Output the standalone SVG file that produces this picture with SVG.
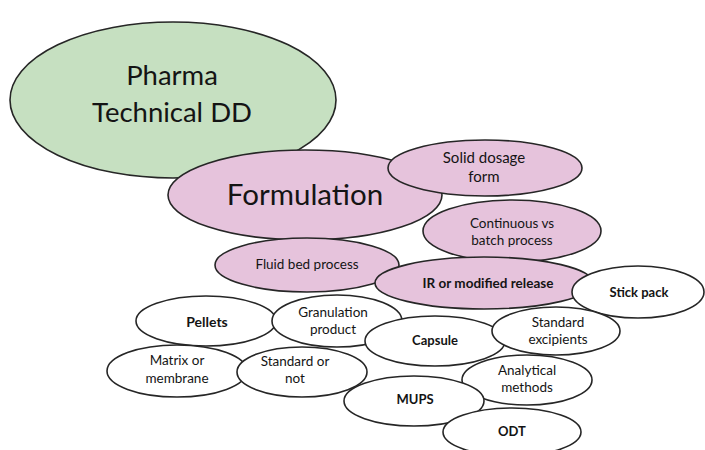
<svg xmlns="http://www.w3.org/2000/svg" width="705" height="450" viewBox="0 0 705 450">
<style>
ellipse{stroke:#262626;stroke-width:1.6}
.g{fill:#C6E0C1}
.p{fill:#E6C3DC}
.w{fill:#FFFFFF}
text{font-family:Lato,"Liberation Sans",sans-serif;fill:#141414;text-anchor:middle}
.big{font-size:27.5px}
.f{font-size:29.5px}
.s{font-size:13.5px}
.b{font-size:13px;font-weight:bold}
</style>
<rect width="705" height="450" fill="#FFFFFF"/>
<g id="connectors"/>
<g id="pharma"><ellipse class="g" cx="173" cy="100" rx="163" ry="78"/><text class="big" x="172" y="85">Pharma</text><text class="big" x="172" y="122">Technical DD</text></g>
<g id="formulation"><ellipse class="p" cx="305" cy="195" rx="137" ry="45"/><text class="f" x="305" y="205">Formulation</text></g>
<g id="solid"><ellipse class="p" cx="485" cy="168" rx="97" ry="28"/><text x="484" y="163" style="font-size:15px">Solid dosage</text><text x="484" y="182" style="font-size:15px">form</text></g>
<g id="continuous"><ellipse class="p" cx="512" cy="231" rx="89" ry="31"/><text class="s" x="512" y="228">Continuous vs</text><text class="s" x="512" y="245">batch process</text></g>
<g id="fluid"><ellipse class="p" cx="307" cy="265" rx="92" ry="27"/><text class="s" x="307" y="269">Fluid bed process</text></g>
<g id="ir"><ellipse class="p" cx="484" cy="283" rx="109" ry="26"/><text class="b" x="488" y="288" style="font-size:13.5px">IR or modified release</text></g>
<g id="stick"><ellipse class="w" cx="638" cy="292" rx="66" ry="26"/><text class="b" x="639" y="297">Stick pack</text></g>
<g id="pellets"><ellipse class="w" cx="206" cy="321" rx="70" ry="25"/><text class="b" x="207" y="327" style="font-size:14px">Pellets</text></g>
<g id="granulation"><ellipse class="w" cx="337" cy="321" rx="65" ry="26"/><text class="s" x="333" y="317">Granulation</text><text class="s" x="333" y="334">product</text></g>
<g id="matrix"><ellipse class="w" cx="177" cy="371" rx="70" ry="26"/><text class="s" x="177" y="365">Matrix or</text><text class="s" x="177" y="383">membrane</text></g>
<g id="standardornot"><ellipse class="w" cx="302" cy="372" rx="65" ry="25"/><text class="s" x="295" y="366">Standard or</text><text class="s" x="295" y="383">not</text></g>
<g id="capsule"><ellipse class="w" cx="435" cy="341" rx="70" ry="25"/><text class="b" x="435" y="345">Capsule</text></g>
<g id="excipients"><ellipse class="w" cx="556" cy="331" rx="64" ry="24"/><text class="s" x="558" y="327">Standard</text><text class="s" x="558" y="344">excipients</text></g>
<g id="analytical"><ellipse class="w" cx="527" cy="380" rx="65" ry="25"/><text class="s" x="527" y="375">Analytical</text><text class="s" x="527" y="392">methods</text></g>
<g id="mups"><ellipse class="w" cx="414" cy="401" rx="70" ry="25"/><text class="b" x="415" y="404">MUPS</text></g>
<g id="odt"><ellipse class="w" cx="512" cy="432" rx="69" ry="24"/><text class="b" x="512" y="436">ODT</text></g>
</svg>
